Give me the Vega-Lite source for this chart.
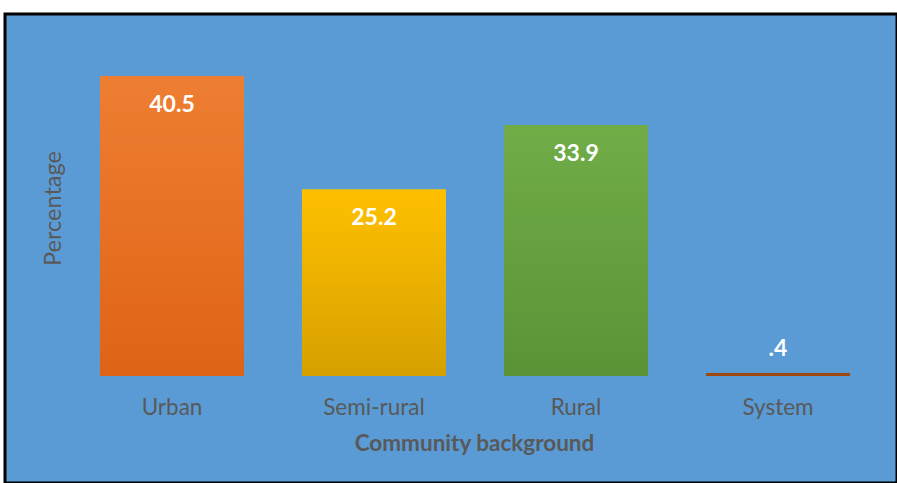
{
  "$schema": "https://vega.github.io/schema/vega-lite/v6.json",
  "width": 892,
  "height": 469,
  "autosize": {"type": "none"},
  "padding": {"left": 5, "top": 14, "right": 0, "bottom": 0},
  "background": "white",
  "config": {
    "view": {"fill": "#5B9BD5", "stroke": "black", "strokeWidth": 3},
    "font": "Lato"
  },
  "data": {
    "values": [
      {"category": "Urban", "value": 40.5, "label": "40.5"},
      {"category": "Semi-rural", "value": 25.2, "label": "25.2"},
      {"category": "Rural", "value": 33.9, "label": "33.9"},
      {"category": "System", "value": 0.4, "label": ".4"}
    ]
  },
  "encoding": {
    "x": {
      "field": "category",
      "type": "nominal",
      "sort": null,
      "scale": {"domain": ["Urban", "Semi-rural", "Rural", "System"], "paddingInner": 0.2871, "paddingOuter": 0.3515, "align": 0.669},
      "axis": {
        "title": "Community background",
        "orient": "bottom",
        "offset": -76,
        "domain": false,
        "ticks": false,
        "tickSize": 0,
        "labelPadding": 0,
        "labelBaseline": "middle",
        "labelAngle": 0,
        "labelFont": "Lato",
        "labelFontSize": 22.5,
        "labelColor": "#595959",
        "titleFont": "Lato",
        "titleFontSize": 22.5,
        "titleFontWeight": "bold",
        "titleColor": "#595959",
        "titleX": 469,
        "titleY": 36,
        "titleAlign": "center",
        "titleBaseline": "middle"
      }
    },
    "y": {
      "field": "value",
      "type": "quantitative",
      "scale": {"domain": [-14.45, 48.87], "nice": false, "zero": false},
      "axis": {
        "title": "Percentage",
        "labels": false,
        "ticks": false,
        "domain": false,
        "grid": false,
        "titleFont": "Lato",
        "titleFontSize": 23.5,
        "titleFontWeight": "normal",
        "titleColor": "#595959",
        "titleX": 48,
        "titleY": 194,
        "titleAngle": -90,
        "titleAlign": "center",
        "titleBaseline": "middle"
      }
    }
  },
  "layer": [
    {
      "transform": [{"filter": "datum.category === 'Urban'"}],
      "mark": {
        "type": "bar",
        "fill": {"gradient": "linear", "x1": 0, "y1": 0, "x2": 0, "y2": 1,
          "stops": [{"offset": 0, "color": "#EE7E32"}, {"offset": 1, "color": "#DF6316"}]}
      },
      "encoding": {"y2": {"datum": 0}}
    },
    {
      "transform": [{"filter": "datum.category === 'Semi-rural'"}],
      "mark": {
        "type": "bar",
        "fill": {"gradient": "linear", "x1": 0, "y1": 0, "x2": 0, "y2": 1,
          "stops": [{"offset": 0, "color": "#FFC000"}, {"offset": 1, "color": "#D6A000"}]}
      },
      "encoding": {"y2": {"datum": 0}}
    },
    {
      "transform": [{"filter": "datum.category === 'Rural'"}],
      "mark": {
        "type": "bar",
        "fill": {"gradient": "linear", "x1": 0, "y1": 0, "x2": 0, "y2": 1,
          "stops": [{"offset": 0, "color": "#70AD47"}, {"offset": 1, "color": "#5C9237"}]}
      },
      "encoding": {"y2": {"datum": 0}}
    },
    {
      "transform": [{"filter": "datum.category === 'System'"}],
      "mark": {"type": "bar", "fill": "#9E480E"},
      "encoding": {"y2": {"datum": 0}}
    },
    {
      "transform": [{"filter": "datum.value > 5"}],
      "mark": {"type": "text", "dy": 29, "baseline": "middle", "align": "center", "color": "white", "fontWeight": "bold", "fontSize": 23, "font": "Lato"},
      "encoding": {"text": {"field": "label"}}
    },
    {
      "transform": [{"filter": "datum.value <= 5"}],
      "mark": {"type": "text", "dy": -24, "baseline": "middle", "align": "center", "color": "white", "fontWeight": "bold", "fontSize": 23, "font": "Lato"},
      "encoding": {"text": {"field": "label"}}
    }
  ]
}
